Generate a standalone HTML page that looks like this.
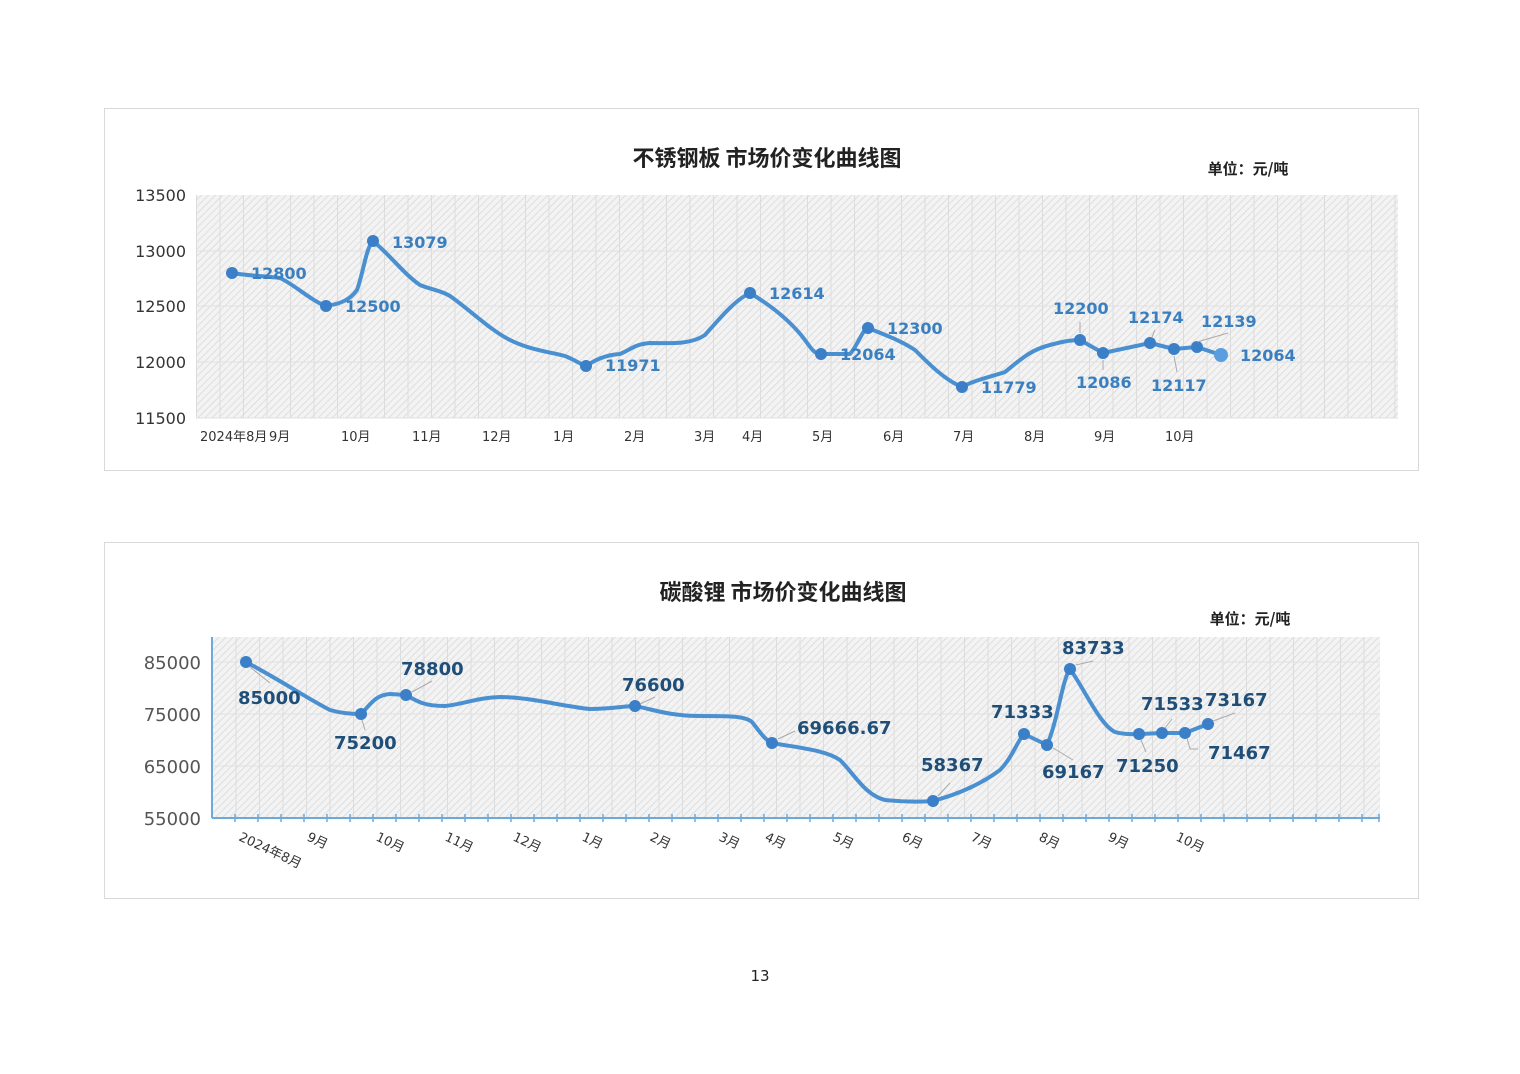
<!DOCTYPE html>
<html><head><meta charset="utf-8"><style>
body{margin:0;background:#fff;}
svg{display:block;font-family:"DejaVu Sans","Noto Sans CJK SC",sans-serif;}
</style></head><body>
<svg width="1520" height="1074" viewBox="0 0 1520 1074" xmlns="http://www.w3.org/2000/svg">
<defs>
<pattern id="h" width="5" height="5" patternUnits="userSpaceOnUse" patternTransform="rotate(45)">
<rect width="5" height="5" fill="#f3f3f3"/><line x1="0" y1="0" x2="0" y2="5" stroke="#d6d6d6" stroke-width="1.4"/>
</pattern>
<pattern id="v" width="23.5" height="10" patternUnits="userSpaceOnUse" x="196">
<line x1="0.5" y1="0" x2="0.5" y2="10" stroke="#dcdcdc" stroke-width="1"/>
</pattern>
</defs>
<!-- Chart 1 -->
<rect x="104.5" y="108.5" width="1314" height="362" fill="#fff" stroke="#d9d9d9"/>
<text x="767" y="166" font-size="22" font-weight="bold" text-anchor="middle" fill="#222" font-family="'Noto Sans CJK SC',sans-serif">不锈钢板 市场价变化曲线图</text>
<text x="1248" y="174" font-size="15" font-weight="bold" text-anchor="middle" fill="#222" font-family="'Noto Sans CJK SC',sans-serif">单位：元/吨</text>
<rect x="196" y="195" width="1202" height="223" fill="url(#h)"/>
<rect x="196" y="195" width="1202" height="223" fill="url(#v)"/>
<g stroke="#e0e0e0" stroke-width="1">
<line x1="196" y1="251" x2="1398" y2="251"/><line x1="196" y1="306" x2="1398" y2="306"/><line x1="196" y1="362" x2="1398" y2="362"/><line x1="196" y1="418" x2="1398" y2="418"/>
</g>
<g font-size="16" fill="#333" text-anchor="end">
<text x="186" y="201">13500</text><text x="186" y="257">13000</text><text x="186" y="312">12500</text><text x="186" y="368">12000</text><text x="186" y="424">11500</text>
</g>
<g font-size="13" fill="#333">
<text x="200" y="441">2024年8月</text><text x="269" y="441">9月</text><text x="341" y="441">10月</text><text x="412" y="441">11月</text><text x="482" y="441">12月</text><text x="553" y="441">1月</text><text x="624" y="441">2月</text><text x="694" y="441">3月</text><text x="742" y="441">4月</text><text x="812" y="441">5月</text><text x="883" y="441">6月</text><text x="953" y="441">7月</text><text x="1024" y="441">8月</text><text x="1094" y="441">9月</text><text x="1165" y="441">10月</text>
</g>
<path d="M232,273 C250,276 265,276 280,278 C295,285 310,300 326,306 C340,304 350,300 357,290 C364,270 366,248 373,241 C390,255 405,275 420,285 C432,290 440,290 450,296 C470,310 490,330 510,340 C530,350 550,352 565,356 C575,360 580,364 586,366 C595,360 605,355 620,354 C630,350 635,344 650,343 C670,343 690,345 705,335 C720,318 735,300 750,293 C770,305 790,320 805,340 C812,350 815,354 821,354 L850,354 C858,345 862,330 868,328 C885,335 900,340 915,350 C930,365 945,380 962,387 C975,380 990,377 1005,372 C1020,360 1030,350 1050,345 C1065,341 1072,340 1080,340 L1103,353 L1150,343 L1174,349 L1197,347 L1221,355" fill="none" stroke="#4a90d0" stroke-width="4" stroke-linejoin="round" stroke-linecap="round"/>
<g fill="#3a7fc8">
<circle cx="232" cy="273" r="6"/><circle cx="326" cy="306" r="6"/><circle cx="373" cy="241" r="6"/><circle cx="586" cy="366" r="6"/><circle cx="750" cy="293" r="6"/><circle cx="821" cy="354" r="6"/><circle cx="868" cy="328" r="6"/><circle cx="962" cy="387" r="6"/><circle cx="1080" cy="340" r="6"/><circle cx="1103" cy="353" r="6"/><circle cx="1150" cy="343" r="6"/><circle cx="1174" cy="349" r="6"/><circle cx="1197" cy="347" r="6"/><circle cx="1221" cy="355" r="7" fill="#5a9ee0"/>
</g>
<g stroke="#aaa" stroke-width="1"><line x1="1080" y1="333" x2="1080" y2="322"/><line x1="1103" y1="360" x2="1103" y2="370"/><line x1="1174" y1="356" x2="1177" y2="372"/><line x1="1197" y1="342" x2="1228" y2="333"/><line x1="1152" y1="337" x2="1155" y2="330"/></g>
<g font-size="16" font-weight="bold" fill="#3a7fc0">
<text x="251" y="279">12800</text><text x="345" y="312">12500</text><text x="392" y="248">13079</text><text x="605" y="371">11971</text><text x="769" y="299">12614</text><text x="840" y="360">12064</text><text x="887" y="334">12300</text><text x="981" y="393">11779</text><text x="1053" y="314">12200</text><text x="1076" y="388">12086</text><text x="1128" y="323">12174</text><text x="1151" y="391">12117</text><text x="1201" y="327">12139</text><text x="1240" y="361">12064</text>
</g>

<!-- Chart 2 -->
<rect x="104.5" y="542.5" width="1314" height="356" fill="#fff" stroke="#d9d9d9"/>
<text x="783" y="600" font-size="22" font-weight="bold" text-anchor="middle" fill="#222" font-family="'Noto Sans CJK SC',sans-serif">碳酸锂 市场价变化曲线图</text>
<text x="1250" y="624" font-size="15" font-weight="bold" text-anchor="middle" fill="#222" font-family="'Noto Sans CJK SC',sans-serif">单位：元/吨</text>
<rect x="212" y="637" width="1168" height="181" fill="url(#h)"/>
<rect x="212" y="637" width="1168" height="181" fill="url(#v)" transform="translate(16,0)" clip-path="inset(0 16px 0 0)"/>
<g stroke="#e0e0e0"><line x1="212" y1="662" x2="1380" y2="662"/><line x1="212" y1="714" x2="1380" y2="714"/><line x1="212" y1="766" x2="1380" y2="766"/></g>
<line x1="212" y1="637" x2="212" y2="818" stroke="#6fa8dc" stroke-width="2"/>
<line x1="212" y1="818" x2="1380" y2="818" stroke="#6fa8dc" stroke-width="2"/>
<path stroke="#6fa8dc" stroke-width="1.5" d="M235,814v8M258,814v8M281,814v8M304,814v8M327,814v8M350,814v8M373,814v8M396,814v8M419,814v8M442,814v8M465,814v8M488,814v8M511,814v8M534,814v8M557,814v8M580,814v8M603,814v8M626,814v8M649,814v8M672,814v8M695,814v8M718,814v8M741,814v8M764,814v8M787,814v8M810,814v8M833,814v8M856,814v8M879,814v8M902,814v8M925,814v8M948,814v8M971,814v8M994,814v8M1017,814v8M1040,814v8M1063,814v8M1086,814v8M1109,814v8M1132,814v8M1155,814v8M1178,814v8M1201,814v8M1224,814v8M1247,814v8M1270,814v8M1293,814v8M1316,814v8M1339,814v8M1362,814v8M1379,814v8"/>
<g font-size="18" fill="#555" text-anchor="end">
<text x="201" y="669">85000</text><text x="201" y="721">75000</text><text x="201" y="773">65000</text><text x="201" y="825">55000</text>
</g>
<g font-size="13" fill="#333">
<text transform="translate(238,840) rotate(25)">2024年8月</text>
<text transform="translate(306,840) rotate(25)">9月</text>
<text transform="translate(375,840) rotate(25)">10月</text>
<text transform="translate(444,840) rotate(25)">11月</text>
<text transform="translate(512,840) rotate(25)">12月</text>
<text transform="translate(581,840) rotate(25)">1月</text>
<text transform="translate(649,840) rotate(25)">2月</text>
<text transform="translate(718,840) rotate(25)">3月</text>
<text transform="translate(764,840) rotate(25)">4月</text>
<text transform="translate(832,840) rotate(25)">5月</text>
<text transform="translate(901,840) rotate(25)">6月</text>
<text transform="translate(970,840) rotate(25)">7月</text>
<text transform="translate(1038,840) rotate(25)">8月</text>
<text transform="translate(1107,840) rotate(25)">9月</text>
<text transform="translate(1175,840) rotate(25)">10月</text>
</g>
<path d="M246,662 C280,680 310,700 330,710 C340,713 352,714 361,714 C370,705 375,695 390,694 L406,695 C418,702 425,706 445,706 C465,704 475,698 500,697 C530,697 560,706 590,709 C610,709 625,706 635,706 C655,710 670,716 700,716 C730,716 745,716 752,722 C760,732 765,740 772,743 C800,748 825,750 840,760 C855,775 865,795 885,800 C905,802 920,802 933,801 C955,795 980,785 1000,770 C1012,758 1018,740 1024,734 L1047,745 C1058,720 1062,680 1070,669 C1085,690 1100,725 1115,732 C1125,735 1133,734 1139,734 L1162,733 L1185,733 L1208,724" fill="none" stroke="#4a90d0" stroke-width="4" stroke-linejoin="round" stroke-linecap="round"/>
<g fill="#3a7fc8">
<circle cx="246" cy="662" r="6"/><circle cx="361" cy="714" r="6"/><circle cx="406" cy="695" r="6"/><circle cx="635" cy="706" r="6"/><circle cx="772" cy="743" r="6"/><circle cx="933" cy="801" r="6"/><circle cx="1024" cy="734" r="6"/><circle cx="1047" cy="745" r="6"/><circle cx="1070" cy="669" r="6"/><circle cx="1139" cy="734" r="6"/><circle cx="1162" cy="733" r="6"/><circle cx="1185" cy="733" r="6"/><circle cx="1208" cy="724" r="6"/>
</g>
<g stroke="#aaa" stroke-width="1" fill="none">
<line x1="250" y1="667" x2="270" y2="683"/><line x1="362" y1="720" x2="365" y2="730"/><line x1="412" y1="692" x2="432" y2="681"/><line x1="640" y1="704" x2="655" y2="697"/><line x1="778" y1="739" x2="795" y2="731"/><line x1="938" y1="796" x2="950" y2="783"/><line x1="1053" y1="748" x2="1073" y2="760"/><line x1="1076" y1="665" x2="1093" y2="661"/><line x1="1141" y1="740" x2="1146" y2="752"/><line x1="1165" y1="728" x2="1172" y2="719"/><path d="M1187,738 L1190,749 L1198,749"/><line x1="1213" y1="721" x2="1235" y2="713"/>
</g>
<g font-size="18" font-weight="bold" fill="#1f4e79">
<text x="238" y="704">85000</text><text x="334" y="749">75200</text><text x="401" y="675">78800</text><text x="622" y="691">76600</text><text x="797" y="734">69666.67</text><text x="921" y="771">58367</text><text x="991" y="718">71333</text><text x="1042" y="778">69167</text><text x="1062" y="654">83733</text><text x="1116" y="772">71250</text><text x="1141" y="710">71533</text><text x="1205" y="706">73167</text><text x="1208" y="759">71467</text>
</g>
<text x="760" y="981" font-size="15" text-anchor="middle" fill="#222">13</text>
</svg>
</body></html>
